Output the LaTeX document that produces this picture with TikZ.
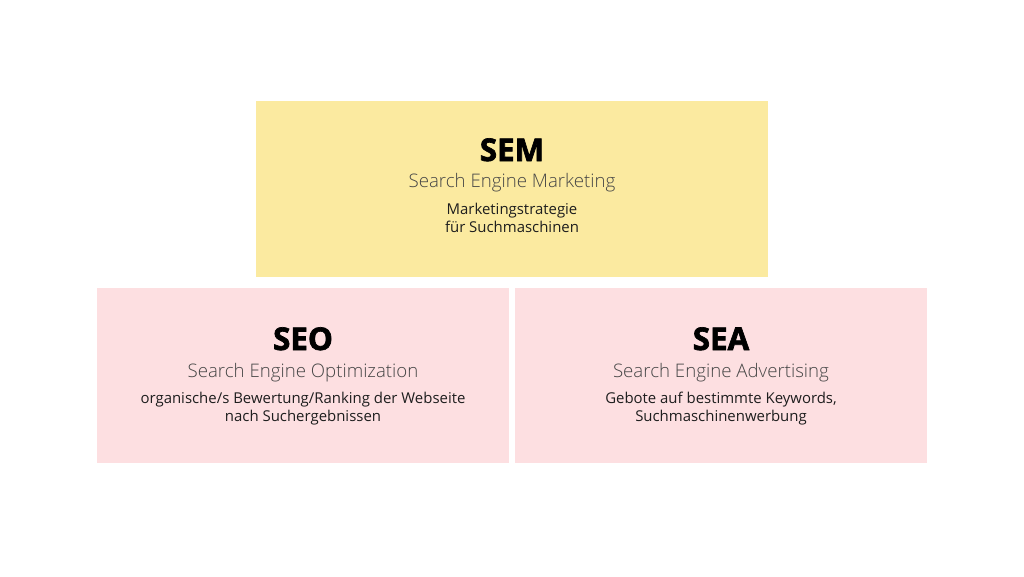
\documentclass[tikz,border=0pt]{standalone}
\usepackage{fontspec}
\setmainfont{Open Sans}
\newfontfamily\oslight{Open Sans Light}
\newfontfamily\osxbold{Open Sans}[BoldFeatures={FakeBold=2.2}]
\definecolor{semyellow}{RGB}{251,234,160}
\definecolor{subpink}{RGB}{253,223,225}
\definecolor{subgray}{RGB}{70,70,70}
\definecolor{bodydark}{RGB}{30,30,30}
\tikzset{
  box/.style={draw=none, inner sep=0pt, outer sep=0pt},
  titletext/.style={anchor=base, inner sep=0pt, font=\osxbold\bfseries\fontsize{23.5}{27}\selectfont, text=black},
  subtext/.style={anchor=base, inner sep=0pt, font=\oslight\fontsize{14}{17}\selectfont, text=subgray},
  bodytext/.style={anchor=base, inner sep=0pt, align=center, font=\fontsize{11.2}{13.5}\selectfont, text=bodydark},
}
\begin{document}
\begin{tikzpicture}[x=0.75pt,y=-0.75pt]
\useasboundingbox[fill=white] (0,0) rectangle (1024,576);
% boxes
\fill[semyellow] (256,101) rectangle (768,277);
\fill[subpink] (97,288) rectangle (509,463);
\fill[subpink] (515,288) rectangle (927,463);
% SEM
\node[titletext] (semt) at (512,161) {SEM};
\node[subtext] (sems) at (512,187) {Search Engine Marketing};
\node[bodytext] (semb1) at (512,214) {Marketingstrategie};
\node[bodytext] (semb2) at (512,232) {für Suchmaschinen};
% SEO
\node[titletext] (seot) at (303,350) {SEO};
\node[subtext] (seos) at (303,377) {Search Engine Optimization};
\node[bodytext] (seob1) at (303,403) {organische/s Bewertung/Ranking der Webseite};
\node[bodytext] (seob2) at (303,421) {nach Suchergebnissen};
% SEA
\node[titletext] (seat) at (721,350) {SEA};
\node[subtext] (seas) at (721,377) {Search Engine Advertising};
\node[bodytext] (seab1) at (721,403) {Gebote auf bestimmte Keywords,};
\node[bodytext] (seab2) at (721,421) {Suchmaschinenwerbung};
\end{tikzpicture}
\end{document}
